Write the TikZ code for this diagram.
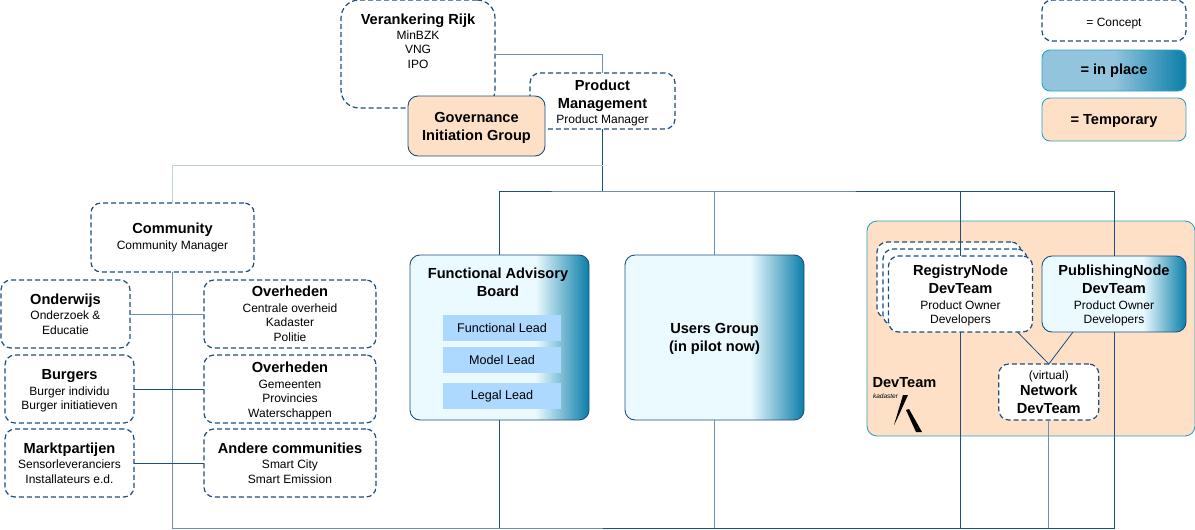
\documentclass[tikz,border=0pt]{standalone}
\usepackage{fontspec}
\setmainfont{Liberation Sans}
\usepackage{tikz}
\definecolor{navyline}{HTML}{1D4E82}
\definecolor{midline}{HTML}{6A90B6}
\definecolor{paleline}{HTML}{BFCFE0}
\definecolor{tealedge}{HTML}{2BA3C2}
\definecolor{peachfill}{HTML}{FDE0C5}
\definecolor{icefill}{HTML}{EBFAFF}
\definecolor{seadark}{HTML}{0A7EA8}
\definecolor{skyfill}{HTML}{92C4DE}
\definecolor{leadfill}{HTML}{ADD8FF}
\pgfdeclarehorizontalshading{inplaceshade}{100bp}{color(0bp)=(icefill); color(60bp)=(icefill); color(75bp)=(seadark); color(100bp)=(seadark)}
\pgfdeclarehorizontalshading{legendshade}{100bp}{color(0bp)=(skyfill); color(50bp)=(skyfill); color(75bp)=(seadark); color(100bp)=(seadark)}
\newcommand{\boxhead}[1]{{\fontsize{14.6}{18}\bfseries\selectfont #1}}
\newcommand{\topgap}{\mbox{}\\[-0.5pt]}
\tikzset{
  basebox/.style={align=center, inner sep=0pt, outer sep=0pt, font=\fontsize{12}{14.5}\selectfont},
  concept/.style={basebox, draw=navyline, dash pattern=on 5pt off 3pt, line width=1.2pt, fill=white, rounded corners=10pt},
  placed/.style={basebox, draw=navyline, line width=0.9pt, shading=inplaceshade, rounded corners=10pt},
  temporary/.style={basebox, draw=navyline, line width=0.9pt, fill=peachfill, rounded corners=10pt},
  legendbox/.style={basebox, draw=tealedge, line width=0.9pt, rounded corners=8pt},
  leadbox/.style={basebox, fill=leadfill, minimum width=118pt, minimum height=26pt, font=\fontsize{12.6}{14.5}\selectfont},
  plainline/.style={navyline, line width=0.8pt},
  softline/.style={midline, line width=1pt},
  faintline/.style={paleline, line width=1.3pt}
}
\begin{document}
\begin{tikzpicture}[x=1pt, y=-1pt]
  \useasboundingbox (0,0) rectangle (1195,530);

  \node (anker) [concept, rounded corners=18pt, minimum width=154pt, minimum height=108pt] at (418,54)
    {\boxhead{Verankering Rijk}\\MinBZK\\VNG\\IPO\\[11pt]\mbox{}};
  \node (product) [concept, minimum width=145pt, minimum height=56pt] at (602.5,101)
    {\topgap\boxhead{Product}\\[3.5pt]\boxhead{Management}\\[1pt]Product Manager};
  \node (governance) [temporary, minimum width=137pt, minimum height=60pt] at (476.5,126)
    {\topgap\boxhead{Governance}\\[3.5pt]\boxhead{Initiation Group}};

  \node (concept) [concept, minimum width=144pt, minimum height=41pt] at (1114,20.5) {\topgap= Concept};
  \node (inplace) [legendbox, shading=legendshade, minimum width=144pt, minimum height=41pt] at (1114,70.5) {\boxhead{= in place}};
  \node (temp) [legendbox, fill=peachfill, minimum width=144pt, minimum height=43pt] at (1114,119.5) {\topgap\boxhead{= Temporary}};

  \node (community) [concept, minimum width=163pt, minimum height=69pt] at (172.5,237.5)
    {\boxhead{Community}\\[1pt]Community Manager};
  \node (onderwijs) [concept, minimum width=129pt, minimum height=68pt] at (65.5,314)
    {\boxhead{Onderwijs}\\[1pt]Onderzoek \&\\Educatie};
  \node (burgers) [concept, minimum width=129pt, minimum height=68pt] at (69.5,389)
    {\topgap\boxhead{Burgers}\\[1pt]Burger individu\\Burger initiatieven};
  \node (markt) [concept, minimum width=129pt, minimum height=68pt] at (69.5,463)
    {\boxhead{Marktpartijen}\\[1pt]Sensorleveranciers\\Installateurs e.d.};
  \node (centraal) [concept, minimum width=172pt, minimum height=68pt] at (290,314)
    {\boxhead{Overheden}\\[1pt]Centrale overheid\\Kadaster\\Politie};
  \node (lokaal) [concept, minimum width=172pt, minimum height=68pt] at (290,389)
    {\topgap\boxhead{Overheden}\\[1pt]Gemeenten\\Provincies\\Waterschappen};
  \node (andere) [concept, minimum width=172pt, minimum height=68pt] at (290,463)
    {\boxhead{Andere communities}\\[1pt]Smart City\\Smart Emission};

  \node (advisory) [placed, minimum width=179pt, minimum height=165pt] at (499.5,337.5) {};
  \node (advisorytitle) [basebox] at (498,282) {\boxhead{Functional Advisory}\\[3.5pt]\boxhead{Board}};
  \node (functional) [leadbox] at (502,328) {Functional Lead};
  \node (model) [leadbox] at (502,360) {Model Lead};
  \node (legal) [leadbox] at (502,396) {Legal Lead};
  \node (users) [placed, minimum width=179pt, minimum height=165pt] at (714.5,337.5)
    {\topgap\boxhead{Users Group}\\[3.5pt]\boxhead{(in pilot now)}};

  \node (devgroup) [basebox, draw=tealedge, line width=0.9pt, fill=peachfill, rounded corners=10pt, minimum width=328pt, minimum height=215pt] at (1031,328.5) {};
  \node (devlabel) [basebox] at (904.5,382.5) {\boxhead{DevTeam}};
  \node (kadaster) [basebox, font=\fontsize{6.5}{7}\itshape\selectfont] at (885.5,396.5) {kadaster};
  \fill[black] (903,395) -- (908,395) -- (898,417) -- (894,425) -- cycle;
  \fill[black] (906,410) -- (909,409) -- (922,432) -- (916,432) -- cycle;

  \node (registryback) [concept, minimum width=144pt, minimum height=76pt] at (949,280) {};
  \node (registrymid) [concept, minimum width=144pt, minimum height=76pt] at (955,287) {};
  \node (registry) [concept, minimum width=144pt, minimum height=76pt] at (960.5,294)
    {\topgap\boxhead{RegistryNode}\\[3.5pt]\boxhead{DevTeam}\\[1pt]Product Owner\\Developers};
  \node (publishing) [placed, minimum width=144pt, minimum height=76pt] at (1114,294)
    {\topgap\boxhead{PublishingNode}\\[3.5pt]\boxhead{DevTeam}\\[1pt]Product Owner\\Developers};
  \node (network) [concept, minimum width=100pt, minimum height=56pt] at (1048.8,392)
    {(virtual)\\[2pt]\boxhead{Network}\\[3pt]\boxhead{DevTeam}};

  \coordinate (bustop) at (602.5,191);
  \coordinate (busside) at (602.5,165.5);
  \coordinate (busbottom) at (602.5,528);

  \draw[softline] (anker.east) -| (product.north);
  \draw[plainline] (product.south) -- (bustop);
  \draw[faintline] (busside) -| (community.north);
  \draw[plainline] (advisory.north) |- (bustop) -| (publishing.north);
  \draw[softline] (users.north) -- (users.north |- bustop);
  \draw[plainline] (registry.north) -- (registry.north |- bustop);
  \draw[softline] (community.south) |- (busbottom);
  \draw[plainline] (busbottom) -| (publishing.south);
  \draw[plainline] (advisory.south) -- (advisory.south |- busbottom);
  \draw[softline, line width=1.4pt] (users.south) -- (users.south |- busbottom);
  \draw[plainline] (registry.south) -- (registry.south |- busbottom);
  \draw[softline] (network.south) -- (network.south |- busbottom);
  \draw[softline] (onderwijs.east) -- (centraal.west);
  \draw[plainline] (burgers.east) -- (lokaal.west);
  \draw[plainline] (markt.east) -- (andere.west);
  \draw[plainline] ([xshift=57pt]registry.south) -- (network.north) -- ([xshift=-41pt]publishing.south);
\end{tikzpicture}
\end{document}
